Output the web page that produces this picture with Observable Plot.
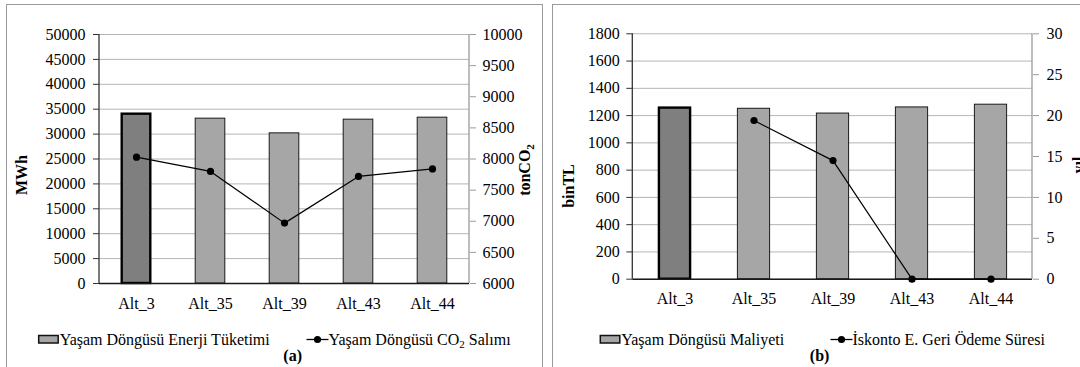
<!DOCTYPE html>
<html><head><meta charset="utf-8">
<script src="https://cdn.jsdelivr.net/npm/d3@7"></script>
<script src="https://cdn.jsdelivr.net/npm/@observablehq/plot@0.6"></script>
<style>
html,body{margin:0;padding:0;background:#fff;overflow:hidden;}
#root{position:relative;width:1080px;height:367px;overflow:hidden;background:#fff;}
.panel{position:absolute;border:1.5px solid #9a9a9a;box-sizing:border-box;}
.chart{position:absolute;top:0;}
#overlay{position:absolute;left:0;top:0;}
</style></head><body><div id="root">
<div class="panel" style="left:6px;top:4px;width:537px;height:420px;"></div>
<div class="panel" style="left:552px;top:4px;width:560px;height:420px;"></div>
</div>
<script>
// ---------------- data ----------------
const alternatives = ["Alt_3", "Alt_35", "Alt_39", "Alt_43", "Alt_44"];
// panel (a)
const energyMWh = [34000, 33100, 30150, 32900, 33300];
const co2Ton = [8030, 7800, 6970, 7720, 7840];
const energyTicks = [0, 5000, 10000, 15000, 20000, 25000, 30000, 35000, 40000, 45000, 50000];
const co2Ticks = [6000, 6500, 7000, 7500, 8000, 8500, 9000, 9500, 10000];
// panel (b)
const costBinTL = [1255, 1250, 1215, 1260, 1280];
const paybackYears = [null, 19.4, 14.5, 0, 0];
const costTicks = [0, 200, 400, 600, 800, 1000, 1200, 1400, 1600, 1800];
const yearTicks = [0, 5, 10, 15, 20, 25, 30];
const baseAlt = "Alt_3";

const FONT = "Liberation Serif";
const style = {fontFamily: FONT, fontSize: "16px", color: "#000", background: "transparent", overflow: "visible"};

// dual-axis mapping helpers
const toA = v => (v - 6000) / 4000 * 50000;
const fromA = y => Math.round(6000 + y / 50000 * 4000);
const toB = v => v / 30 * 1800;
const fromB = y => Math.round(y / 1800 * 30);

const dataA = alternatives.map((alt, i) => ({alt, energy: energyMWh[i], co2y: toA(co2Ton[i])}));
const dataB = alternatives.map((alt, i) => ({alt, cost: costBinTL[i], payy: paybackYears[i] == null ? null : toB(paybackYears[i])}));

function panel({data, yKey, lineKey, domain, leftTicks, rightTicks, toR, fromR, margins, inset, xPad, leftPad, rightPad}) {
  const p = Plot.plot({
    width: 540, height: 320,
    marginTop: margins[0], marginRight: margins[1], marginBottom: margins[2], marginLeft: margins[3],
    x: {domain: alternatives, padding: 0, axis: null},
    y: {domain, axis: null},
    style,
    marks: [
      Plot.gridY(leftTicks, {stroke: "#b5b5b5", strokeOpacity: 1, strokeWidth: 1}),
      Plot.barY(data.filter(d => d.alt !== baseAlt), {x: "alt", y: yKey, fill: "#a6a6a6", stroke: "#1a1a1a", strokeWidth: 1, insetLeft: inset, insetRight: inset}),
      Plot.barY(data.filter(d => d.alt === baseAlt), {x: "alt", y: yKey, fill: "#7f7f7f", stroke: "#000", strokeWidth: 2.4, insetLeft: inset + 0.5, insetRight: inset + 0.5}),
      Plot.ruleY([0], {stroke: "#1a1a1a", strokeWidth: 1.5}),
      Plot.line(data.filter(d => d[lineKey] != null), {x: "alt", y: lineKey, stroke: "#000", strokeWidth: 1.2}),
      Plot.dot(data.filter(d => d[lineKey] != null), {x: "alt", y: lineKey, r: 3.6, fill: "#000", stroke: "none"}),
      Plot.axisY(leftTicks, {anchor: "left", tickSize: 6, tickPadding: leftPad, stroke: "#333", tickFormat: d => String(d), label: null}),
      Plot.axisY(rightTicks.map(toR), {anchor: "right", tickSize: 6, tickPadding: rightPad, stroke: "#9a9a9a", tickFormat: d => String(fromR(d)), label: null}),
      Plot.axisX({tickSize: 0, tickPadding: xPad, label: null})
    ]
  });
  // axis lines along the frame edges, taken from the plot's own scales
  const xr = p.scale("x").range, yr = p.scale("y").range;
  const s = d3.select(p);
  s.append("line").attr("x1", xr[0]).attr("x2", xr[0]).attr("y1", yr[0]).attr("y2", yr[1]).attr("stroke", "#333").attr("stroke-width", 1.3);
  s.append("line").attr("x1", xr[1]).attr("x2", xr[1]).attr("y1", yr[0]).attr("y2", yr[1]).attr("stroke", "#9a9a9a").attr("stroke-width", 1.3);
  return p;
}

const root = document.getElementById("root");

const plotA = panel({data: dataA, yKey: "energy", lineKey: "co2y", domain: [0, 50000], leftTicks: energyTicks, rightTicks: co2Ticks, toR: toA, fromR: fromA,
  margins: [34, 71, 37, 99], inset: 22.2, xPad: 14, leftPad: 8, rightPad: 7});
plotA.classList.add("chart"); plotA.style.left = "0px";
root.appendChild(plotA);

const plotB = panel({data: dataB, yKey: "cost", lineKey: "payy", domain: [0, 1800], leftTicks: costTicks, rightTicks: yearTicks, toR: toB, fromR: fromB,
  margins: [33.3, 48, 41.3, 92.3], inset: 23.4, xPad: 13, leftPad: 7, rightPad: 8});
plotB.classList.add("chart"); plotB.style.left = "540px";
root.appendChild(plotB);

// ---------------- overlay: axis titles, legends, captions ----------------
const ov = d3.select(root).append("svg").attr("id", "overlay").attr("width", 1080).attr("height", 367)
  .attr("font-family", FONT).attr("font-size", 16);

function vtitle(x, y, parts) {
  const t = ov.append("text").attr("transform", `translate(${x},${y}) rotate(-90)`).attr("text-anchor", "middle").attr("font-weight", "bold").attr("font-size", 16);
  parts.forEach(([s, sub]) => {
    const ts = t.append("tspan").text(s);
    if (sub) ts.attr("font-size", 11).attr("dy", 4);
  });
}
vtitle(27, 175, [["MWh"]]);
vtitle(530, 170, [["tonCO"], ["2", true]]);
vtitle(574, 186, [["binTL"]]);
vtitle(1084, 165, [["yıl"]]);

function swatch(x, label) {
  ov.append("rect").attr("x", x).attr("y", 335.5).attr("width", 19.5).attr("height", 7.5).attr("fill", "#a6a6a6").attr("stroke", "#111").attr("stroke-width", 1.5);
  ov.append("text").attr("x", x + 21).attr("y", 345).text(label);
}
function lineKey(x, parts) {
  ov.append("line").attr("x1", x).attr("x2", x + 22).attr("y1", 339.5).attr("y2", 339.5).attr("stroke", "#000").attr("stroke-width", 1.3);
  ov.append("circle").attr("cx", x + 11).attr("cy", 339.5).attr("r", 3.6).attr("fill", "#000");
  const t = ov.append("text").attr("x", x + 22).attr("y", 345);
  parts.forEach(([s, sub], i) => {
    const ts = t.append("tspan").text(s);
    if (sub) ts.attr("font-size", 11).attr("dy", 3);
    else if (i > 0) ts.attr("dy", -3);
  });
}
swatch(38.7, "Yaşam Döngüsü Enerji Tüketimi");
lineKey(306.5, [["Yaşam Döngüsü CO"], ["2", true], [" Salımı"]]);
ov.append("text").attr("x", 292.7).attr("y", 361).attr("text-anchor", "middle").attr("font-weight", "bold").text("(a)");

swatch(600.3, "Yaşam Döngüsü Maliyeti");
lineKey(830.5, [["İskonto E. Geri Ödeme Süresi"]]);
ov.append("text").attr("x", 819.6).attr("y", 361).attr("text-anchor", "middle").attr("font-weight", "bold").text("(b)");
</script></body></html>
